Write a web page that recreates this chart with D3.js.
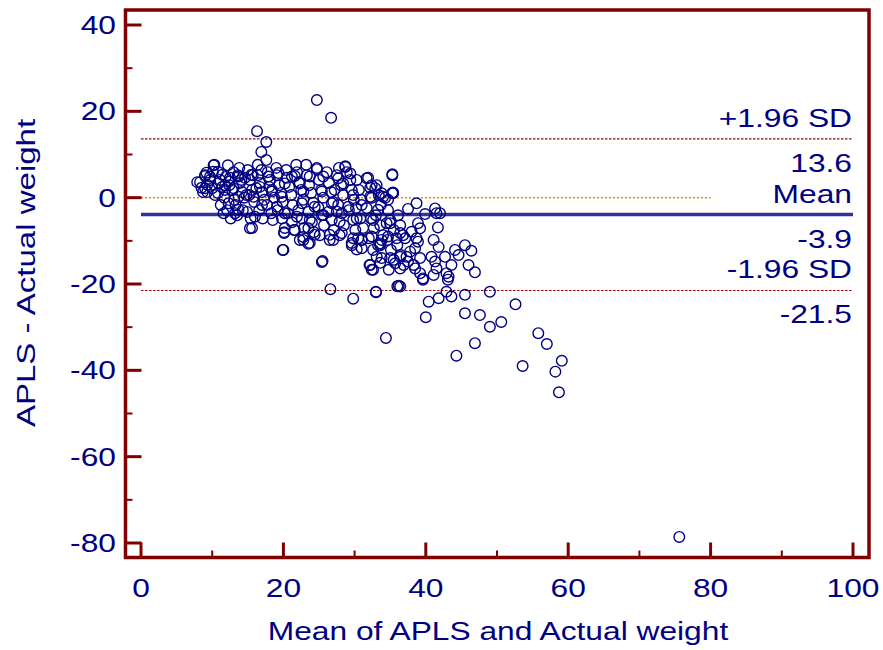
<!DOCTYPE html>
<html>
<head>
<meta charset="utf-8">
<script src="https://cdn.jsdelivr.net/npm/d3@7"></script>
<style>
  body { margin: 0; background: #fff; }
  text { font-family: "Liberation Sans", Arial, sans-serif; fill: #000080; }
</style>
</head>
<body>
<div id="chart"></div>
<script>
// [mean of APLS and actual weight, APLS - actual weight]
const points = [
  [7.9,3.6],[8.5,2.3],[9.0,5.0],[8.7,1.3],[9.3,3.0],
  [9.0,5.2],[9.7,4.1],[10.0,2.2],[9.3,1.3],[10.2,7.5],[10.4,0.6],[10.1,6.0],
  [10.8,6.0],[11.1,4.1],[11.4,2.5],[10.8,1.1],[11.7,0.0],[11.9,4.8],[11.2,-1.7],[11.8,2.9],
  [12.2,7.5],[12.5,4.6],[12.8,1.8],[13.1,-0.5],[12.4,2.9],[13.0,5.9],[12.1,-2.9],[13.2,-3.6],[12.6,-4.8],
  [13.6,5.2],[13.9,3.4],[14.2,1.3],[13.3,-1.7],[14.5,0.0],[13.8,6.9],[14.3,-2.9],[14.6,4.6],[13.5,-4.1],
  [15.0,6.4],[15.3,4.1],[15.6,1.8],[15.9,-1.0],[14.9,-3.3],[15.4,-4.8],[15.2,0.6],[15.6,-7.0],[15.7,5.2],
  [16.4,5.2],[16.7,3.4],[17.0,1.3],[17.3,-0.5],[16.6,-2.9],[17.1,-4.8],[16.2,2.2],[16.9,6.4],[16.3,15.4],[16.9,10.6],[16.4,7.6],
  [17.6,12.9],[17.6,8.7],[17.8,5.9],[18.1,4.1],[18.4,1.8],[18.7,0.0],[17.7,-1.7],[18.3,-3.6],[18.5,-5.2],[18.0,2.5],
  [19.1,5.2],[19.4,2.9],[19.7,1.1],[19.9,-1.0],[19.2,-2.9],[19.8,-4.8],[20.1,-8.2],[19.9,-12.1],[19.0,6.9],[20.2,-7.0],
  [20.5,4.6],[20.8,2.5],[21.1,0.6],[21.3,-1.7],[20.6,-3.6],[21.2,-5.7],[20.4,6.4],[21.5,-7.5],
  [21.9,5.9],[22.2,3.6],[22.5,1.8],[22.8,-0.5],[22.1,-2.9],[22.6,-4.8],[22.9,-7.0],[22.3,-9.8],[21.8,7.6],
  [23.3,5.2],[23.6,2.9],[23.9,1.1],[24.2,-1.2],[23.5,-3.3],[24.0,-5.7],[24.3,-8.0],[23.2,7.6],[23.7,-10.5],
  [24.7,22.6],[24.7,6.9],[25.0,4.1],[25.3,1.8],[25.6,0.0],[24.9,-2.2],[25.4,-4.1],[25.7,-6.4],[25.1,-8.7],[25.4,-14.9],
  [26.7,18.5],[26.6,-21.2],[26.1,5.9],[26.4,3.4],[26.7,1.3],[27.0,-1.0],[26.3,-3.3],[26.8,-5.2],[27.1,-7.5],[26.5,-9.8],
  [27.5,5.2],[27.8,6.9],[28.1,2.9],[28.4,0.6],[27.7,-1.7],[28.2,-3.6],[28.5,-6.4],[27.9,-8.7],[28.7,7.1],
  [28.9,5.9],[29.4,4.1],[29.6,1.8],[29.9,-0.5],[29.2,-2.9],[29.8,-5.2],[30.1,-7.5],[29.6,-10.5],[29.8,-23.4],
  [30.3,4.1],[30.6,1.8],[30.9,-0.5],[30.2,-2.4],[30.8,-4.8],[31.2,-7.0],[30.5,-9.4],[31.0,-11.7],
  [31.9,4.6],[32.2,2.3],[32.4,0.0],[31.7,-2.4],[32.3,-4.8],[32.7,-7.0],[32.0,-9.4],[32.6,-12.1],[32.2,-15.6],[33.0,-21.9],
  [33.1,2.9],[33.4,0.6],[33.7,-1.7],[33.0,-4.1],[33.6,-6.4],[34.0,-8.7],[33.3,-11.0],[33.8,-14.0],[34.3,0.0],[34.4,-32.5],
  [35.3,5.2],[35.3,1.1],[34.7,-2.9],[35.0,-5.2],[35.5,-7.5],[34.6,-9.8],[35.1,-12.1],[35.5,-14.4],[34.8,-16.7],
  [36.1,-4.1],[36.4,-6.4],[36.8,-8.7],[36.0,-11.0],[36.5,-13.3],[36.9,-15.6],[36.2,-20.4],
  // right-hand part of the cluster
  [38.7,-1.3],[37.5,-2.6],[39.9,-3.8],[41.3,-2.5],[41.5,-3.6],[41.7,-6.9],[38.9,-5.9],[39.2,-7.1],
  [36.4,-8.2],[37.1,-9.4],[38.0,-7.9],[38.7,-9.4],[38.9,-10.2],[41.1,-9.8],[41.8,-11.4],[38.5,-11.7],
  [37.8,-12.5],[36.4,-13.7],[39.2,-14.0],[40.8,-13.7],[41.3,-14.8],[37.5,-14.8],[38.5,-16.4],[39.2,-17.5],
  [39.6,-18.7],[41.1,-17.9],[42.7,-13.7],[44.1,-12.1],[45.5,-11.0],[46.4,-12.3],[44.6,-13.3],[43.6,-15.6],
  [42.9,-17.5],[46.0,-15.6],[46.9,-17.3],[36.4,-20.6],[42.9,-21.8],[45.5,-22.5],[49.0,-21.8],[40.4,-24.1],
  [41.8,-23.3],[42.0,-3.6],[43.2,-18.3],[35.0,-5.9],[33.6,-10.6],[38.3,-15.6],[41.5,-16.4],[37.3,-13.7],
  [36.4,-16.4],[32.6,-16.7],[32.4,2.9],[34.0,0.2],[35.4,1.0],
  // scattered lower points
  [39.6,-19.0],[43.1,-19.0],[43.6,-22.9],[40.0,-27.7],[52.6,-24.7],[45.5,-26.8],[47.6,-27.2],[49.0,-29.9],
  [50.6,-28.8],[46.9,-33.7],[44.3,-36.6],[55.8,-31.4],[57.0,-33.9],[53.6,-39.0],[59.1,-37.8],[58.2,-40.3],
  [58.7,-45.1],[75.6,-78.6],
  [25.5,-14.7],[33.0,-21.8],[36.0,-20.5],[32.1,-15.6],[32.4,-16.7],[33.6,-15.1],[33.1,-13.7],[35.0,-14.0],
  [35.7,-15.2],[22.8,-9.1],[23.5,-10.7],[27.0,-9.8],[29.6,-11.0],[30.3,-12.0],[31.0,-9.8],[33.6,-11.0],
  [34.7,-9.0],[28.2,-8.2],[24.4,-8.6],
  // upper cluster
  [28.7,7.3],[29.4,5.6],[24.7,6.6],[23.7,4.9],[25.6,4.9],[27.7,4.5],[31.7,4.5],[35.3,5.4],[21.6,5.0],
  [22.3,3.3],[28.4,3.3],[32.9,2.2],[35.4,1.2],[22.8,1.4],[25.4,1.4],[27.2,1.8],[29.8,0.6],[32.2,0.2],
  [33.8,1.0],[34.7,-0.5],[22.6,-1.3],[24.4,-2.1],[26.8,-1.3],[29.1,-2.1],[31.0,-1.7],[33.3,-2.8],
  [21.9,-4.4],[23.7,-5.2],[25.6,-4.0],[27.5,-3.2],[27.9,-5.6],[30.3,-4.8],[32.6,-5.2],[34.5,-5.9],
  [21.6,-7.5],[23.5,-7.1],[26.5,-8.6],[29.8,-9.4],[31.0,-9.8],[32.4,-9.0],[33.8,-9.8],[35.9,-9.4],[22.8,-9.8],
  [10.3,7.6],[9.2,5.8],[8.3,3.6],[9.0,2.2],[9.7,4.9],[11.4,5.3],[10.9,3.3],[12.3,3.7],[13.7,4.9],
  [14.1,4.1],[13.0,2.2],[11.8,1.8],[15.5,5.3],[16.7,2.5],[17.9,4.9],[19.3,5.7],[20.2,3.3],[21.2,4.9],
  [14.8,0.6],[15.8,0.2],[13.7,0.2],[18.4,1.4],[19.8,0.2],[17.0,-1.7],[19.1,-2.1],[12.3,-1.3],
  [13.7,-2.8],[16.0,-4.4],[20.2,-3.6],[11.6,-3.6],[15.3,-7.1],[20.1,-8.0],[20.0,-12.1]
];

const xTicks = [0, 20, 40, 60, 80, 100];
const yTicks = [-80, -60, -40, -20, 0, 20, 40];
const xMinor = [10, 30, 50, 70, 90];
const yMinor = [-70, -50, -30, -10, 10, 30];

const limitNames = ["+1.96 SD", "Mean", "-1.96 SD"];
const limitValues = [13.6, -3.9, -21.5];
const zeroLineEnd = 80;

const xTitle = "Mean of APLS and Actual weight";
const yTitle = "APLS - Actual weight";

const W = 883, H = 650;
const stretch = 1.27;   // glyphs in the picture are drawn wider than normal
const frame = { left: 125.5, right: 869, top: 10, bottom: 557.5 };

const svg = d3.select("#chart").append("svg")
  .attr("width", W)
  .attr("height", H);

const x = d3.scaleLinear().domain([0, 100]).range([141, 853]);
const y = d3.scaleLinear().domain([-80, 40]).range([543, 25]);

function label(px, py, txt, anchor, size, rot) {
  const g = svg.append("g")
    .attr("transform", "translate(" + px + "," + py + ")" + (rot ? " rotate(" + rot + ")" : "") + " scale(" + stretch + ",1)");
  g.append("text")
    .attr("text-anchor", anchor)
    .attr("font-size", size + "px")
    .text(txt);
  return g;
}

// reference lines
svg.append("line")
  .attr("x1", x(0)).attr("x2", x(zeroLineEnd))
  .attr("y1", y(0)).attr("y2", y(0))
  .attr("stroke", "#ff8000")
  .attr("stroke-width", 1.5)
  .attr("stroke-dasharray", "2,2");

limitValues.forEach((v, i) => {
  const isMean = i === 1;
  svg.append("line")
    .attr("x1", x(0)).attr("x2", x(100))
    .attr("y1", y(v)).attr("y2", y(v))
    .attr("stroke", isMean ? "#333399" : "#a00000")
    .attr("stroke-width", isMean ? 3.5 : 1.2)
    .attr("stroke-dasharray", isMean ? null : "2.5,1.5");
});

// points
svg.append("g")
  .selectAll("circle")
  .data(points)
  .enter()
  .append("circle")
  .attr("cx", d => x(d[0]))
  .attr("cy", d => y(d[1]))
  .attr("r", 5.3)
  .attr("fill", "none")
  .attr("stroke", "#000080")
  .attr("stroke-width", 1.4);

// frame
svg.append("rect")
  .attr("x", frame.left).attr("y", frame.top)
  .attr("width", frame.right - frame.left)
  .attr("height", frame.bottom - frame.top)
  .attr("fill", "none")
  .attr("stroke", "#800000")
  .attr("stroke-width", 3.5);

// inward ticks
const tickCol = "#800000";
svg.append("g")
  .selectAll("line.ym")
  .data(yTicks.concat(yMinor))
  .enter().append("line")
  .attr("x1", frame.left)
  .attr("x2", d => frame.left + (yTicks.includes(d) ? 16 : 7))
  .attr("y1", d => y(d)).attr("y2", d => y(d))
  .attr("stroke", tickCol)
  .attr("stroke-width", d => yTicks.includes(d) ? 3 : 2);

svg.append("g")
  .selectAll("line.xm")
  .data(xTicks.concat(xMinor))
  .enter().append("line")
  .attr("x1", d => x(d)).attr("x2", d => x(d))
  .attr("y1", frame.bottom)
  .attr("y2", d => frame.bottom - (xTicks.includes(d) ? 15 : 7))
  .attr("stroke", tickCol)
  .attr("stroke-width", d => xTicks.includes(d) ? 3 : 2);

// tick labels
yTicks.forEach(v => label(116, y(v) + 9, String(v), "end", 25));
xTicks.forEach(v => label(x(v), 597, String(v), "middle", 25));

// axis titles
label(498, 640, xTitle, "middle", 25);
label(35, 273, yTitle, "middle", 26, -90);

// limit labels (plain hyphen for the minus sign, as in the picture)
limitNames.forEach((n, i) => {
  const v = limitValues[i];
  label(852, y(v) - 12, n, "end", 25);
  label(852, y(v) + 33, v.toFixed(1), "end", 25);
});
</script>
</body>
</html>
